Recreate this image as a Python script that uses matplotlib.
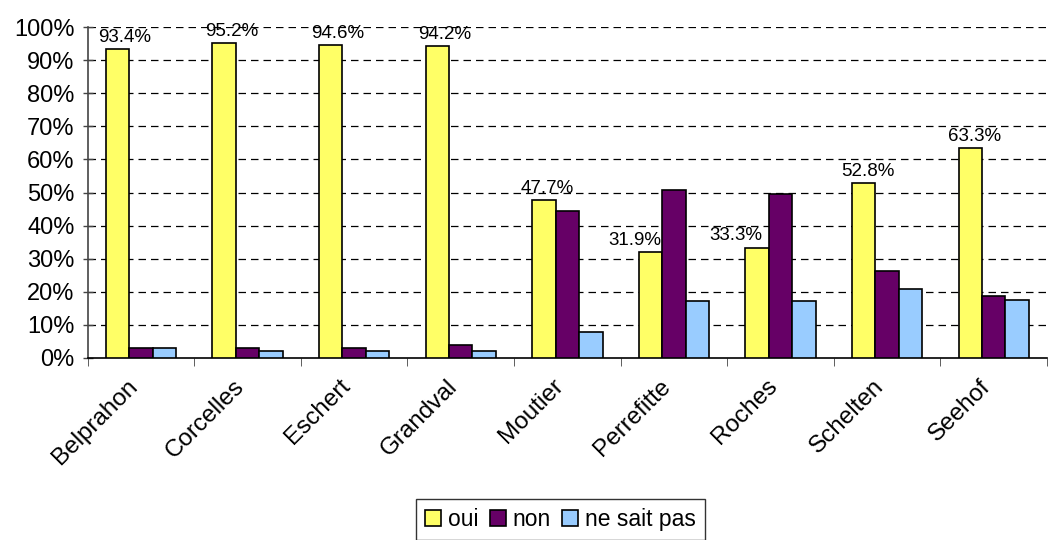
import matplotlib
matplotlib.use("Agg")
import matplotlib.pyplot as plt
import numpy as np
from matplotlib.ticker import FixedLocator, PercentFormatter
from matplotlib.transforms import ScaledTranslation

plt.rcParams['font.family'] = ['Liberation Sans', 'DejaVu Sans']

categories = ["Belprahon", "Corcelles", "Eschert", "Grandval", "Moutier",
              "Perrefitte", "Roches", "Schelten", "Seehof"]
oui = [93.4, 95.2, 94.6, 94.2, 47.7, 31.9, 33.3, 52.8, 63.3]
non = [3.0, 3.0, 3.0, 4.0, 44.3, 50.9, 49.4, 26.4, 18.8]
nsp = [3.0, 2.0, 2.0, 2.0, 8.0, 17.2, 17.2, 20.8, 17.6]
series_names = ["oui", "non", "ne sait pas"]
colors = ["#FFFF66", "#660066", "#99CCFF"]
# horizontal shift of each data label relative to its bar (category units)
label_shift = [0.07, 0.07, 0.07, 0.07, 0.03, -0.15, -0.20, 0.04, 0.04]

fig = plt.figure(figsize=(10.51, 5.40), dpi=100)
ax = fig.add_axes([87.7/1051, 1-358/540, (1047-87.7)/1051, (358-27)/540])

x = np.arange(len(categories))
w = 0.22
series = [oui, non, nsp]
bars = []
for i, (vals, c, name) in enumerate(zip(series, colors, series_names)):
    b = ax.bar(x + (i-1)*w, vals, width=w, color=c, edgecolor="black",
               linewidth=1.2, label=name, zorder=3)
    bars.append(b)

for xi, v, s in zip(x, oui, label_shift):
    ax.text(xi - w + s, v + 1.0, f"{v:.1f}%", ha="center", va="bottom",
            fontsize=13.5, color="black", zorder=4)

ax.set_xlim(-0.5, len(categories)-0.5)
ax.set_ylim(0, 100)
ax.yaxis.set_major_locator(FixedLocator(np.arange(0, 101, 10)))
ax.yaxis.set_major_formatter(PercentFormatter(decimals=0))
for yv in range(10, 101, 10):
    ax.axhline(yv, color="black", linestyle=(0, (6, 4)), linewidth=0.9, zorder=1)

ax.set_xticks(x)
ax.set_xticklabels(categories, rotation=45, ha="right", va="center",
                   rotation_mode="anchor", fontsize=17.5)
ax.tick_params(axis="x", length=0, pad=18)
offset = ScaledTranslation(-0.07, 0, fig.dpi_scale_trans)
for lab in ax.get_xticklabels():
    lab.set_transform(lab.get_transform() + offset)
ax.xaxis.set_minor_locator(FixedLocator(np.arange(-0.5, len(categories), 1.0)))
ax.tick_params(axis="x", which="minor", length=6, direction="out", color="#444444")
ax.tick_params(axis="y", length=7, direction="inout", labelsize=17, color="#444444",
               width=1, pad=6)

for s in ["top", "right"]:
    ax.spines[s].set_visible(False)
ax.spines["left"].set_color("#444444")
ax.spines["bottom"].set_color("black")
ax.spines["left"].set_linewidth(1.2)
ax.spines["bottom"].set_linewidth(1.2)

leg = fig.legend(handles=bars, labels=series_names, loc="upper center",
                 bbox_to_anchor=(560.5/1051, 1-499/540), ncol=3, fontsize=16.5,
                 frameon=True, fancybox=False, edgecolor="black",
                 handlelength=0.7, handleheight=0.7, handletextpad=0.3,
                 columnspacing=0.5, borderpad=0.4, borderaxespad=0)
leg.get_frame().set_linewidth(1.0)

fig.savefig("out.png", dpi=100)
